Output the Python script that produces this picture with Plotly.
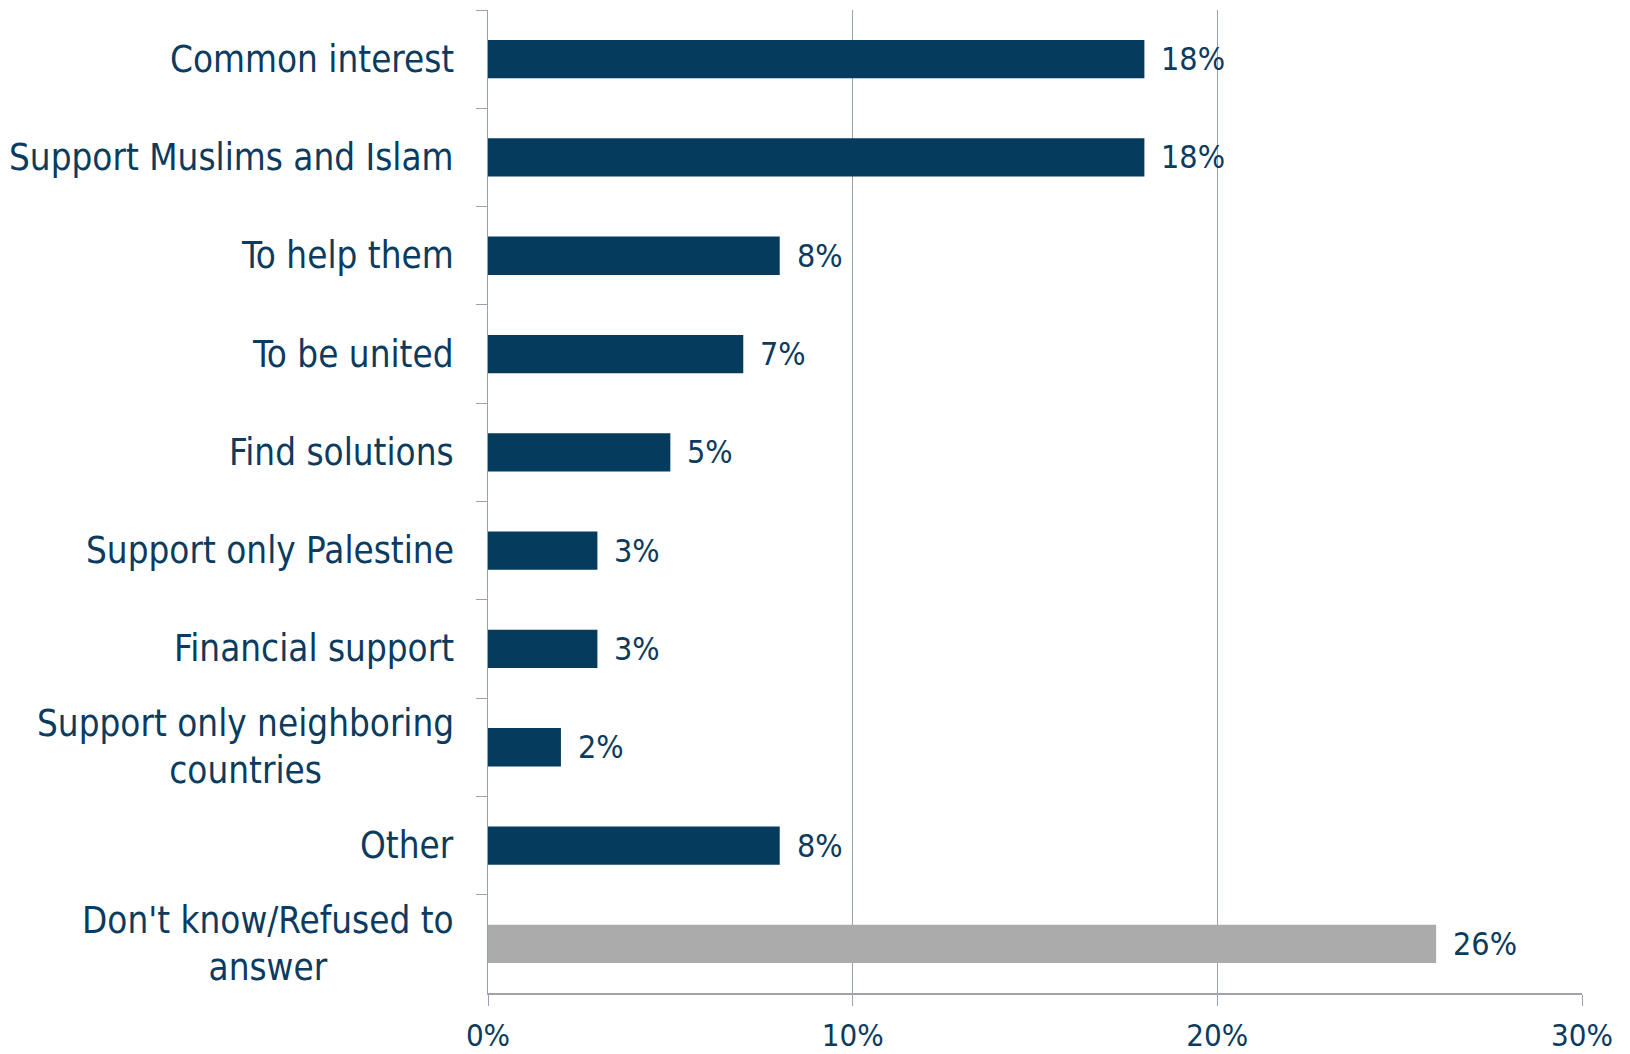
import plotly.graph_objects as go

categories = [
    "Common interest",
    "Support Muslims and Islam",
    "To help them",
    "To be united",
    "Find solutions",
    "Support only Palestine",
    "Financial support",
    "Support only neighboring<br>countries",
    "Other",
    "Don't know/Refused to<br>answer",
]
values = [18, 18, 8, 7, 5, 3, 3, 2, 8, 26]
bar_colors = ["#053B5C"] * 9 + ["#ABABAB"]
x_ticks = [0, 10, 20, 30]
x_tick_labels = ["0%", "10%", "20%", "30%"]

NAVY_TEXT = "#0B3B5E"
LABEL_FONT = "DejaVu Sans Condensed, DejaVu Sans, sans-serif"
NUM_FONT = "Liberation Sans Narrow, DejaVu Sans Condensed, sans-serif"

fig = go.Figure()
fig.add_trace(go.Bar(
    x=values,
    y=categories,
    orientation="h",
    marker=dict(color=bar_colors, line=dict(width=0)),
    width=0.39,
    hoverinfo="skip",
))

annotations = []
for cat, val in zip(categories, values):
    annotations.append(dict(
        x=val, y=cat, xref="x", yref="y",
        text=f"{val}%", showarrow=False,
        xanchor="left", yanchor="middle", xshift=15,
        font=dict(family=NUM_FONT, size=32, color=NAVY_TEXT),
    ))
    annotations.append(dict(
        x=0, y=cat, xref="paper", yref="y",
        text=cat, showarrow=False,
        xanchor="right", yanchor="middle", xshift=-32,
        align="center",
        font=dict(family=LABEL_FONT, size=36.5, color=NAVY_TEXT),
    ))

fig.update_layout(
    width=1630, height=1054,
    margin=dict(l=488, r=48, t=10, b=61, autoexpand=False),
    paper_bgcolor="white", plot_bgcolor="white",
    showlegend=False,
    annotations=annotations,
    xaxis=dict(
        range=[0, 30],
        automargin=False,
        tickvals=x_ticks, ticktext=x_tick_labels,
        showgrid=True, gridcolor="#9AA2B1", gridwidth=1.3,
        zeroline=False,
        showline=True, linecolor="#A0A4AA", linewidth=2,
        ticks="outside", ticklen=11, tickcolor="#9AA2B1", tickwidth=1.3,
        ticklabelstandoff=3,
        tickfont=dict(family=NUM_FONT, size=31, color=NAVY_TEXT),
        fixedrange=True,
    ),
    yaxis=dict(
        autorange="reversed",
        automargin=False,
        showticklabels=False,
        showgrid=False, zeroline=False,
        showline=True, linecolor="#9AA2B1", linewidth=1.3,
        ticks="outside", tickson="boundaries", ticklen=11,
        tickcolor="#9AA2B1", tickwidth=1.3,
        fixedrange=True,
    ),
)

fig.write_html(
    "out.html",
    config={"displayModeBar": False},
    post_script="document.body.style.margin='0';document.body.style.overflow='hidden';",
)
